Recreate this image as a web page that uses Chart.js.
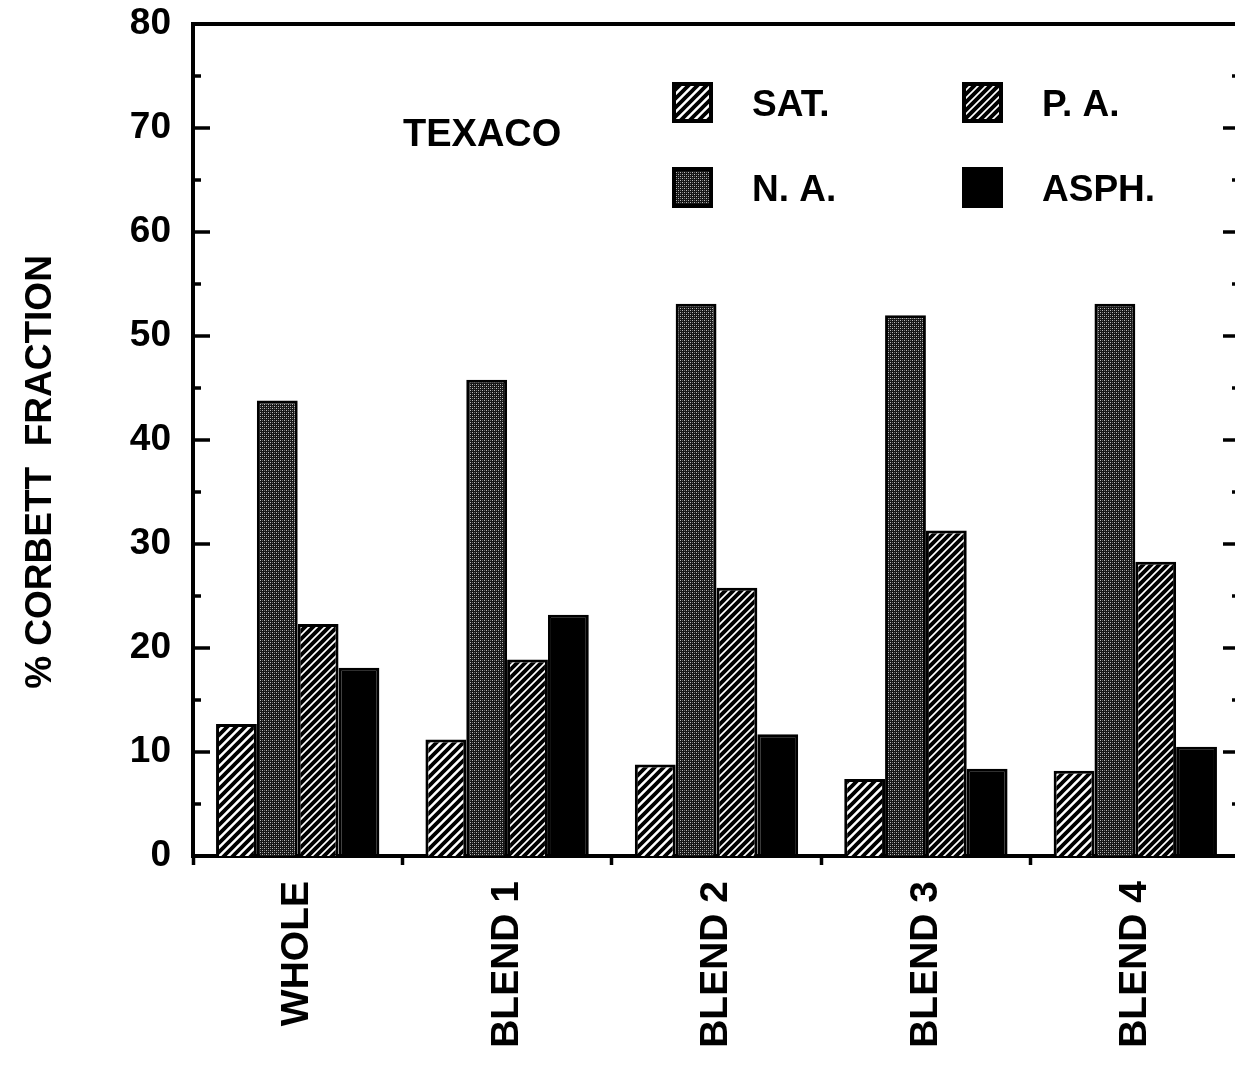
<!DOCTYPE html>
<html>
<head>
<meta charset="utf-8">
<script src="https://cdn.jsdelivr.net/npm/chart.js@4.4.1/dist/chart.umd.min.js"></script>
<style>
  html, body { margin: 0; padding: 0; background: #fff; overflow: hidden; }
  #wrap { width: 1245px; height: 1067px; }
</style>
</head>
<body>
<div id="wrap"><canvas id="c" width="1245" height="1067"></canvas></div>
<script>
// ---- data ----
const categories = ['WHOLE', 'BLEND 1', 'BLEND 2', 'BLEND 3', 'BLEND 4'];
const seriesNames = ['SAT.', 'N. A.', 'P. A.', 'ASPH.'];
const satValues  = [12.7, 11.2, 8.8, 7.4, 8.2];
const naValues   = [43.8, 45.8, 53.1, 52.0, 53.1];
const paValues   = [22.3, 18.9, 25.8, 31.3, 28.3];
const asphValues = [18.1, 23.2, 11.7, 8.4, 10.5];
const yTicks = [0, 10, 20, 30, 40, 50, 60, 70, 80];
const chartLabel = 'TEXACO';
const yTitle = '% CORBETT  FRACTION';

const FONT = '"Liberation Sans", Arial, Helvetica, sans-serif';

// ---- patterns ----
function stripePattern(size, bg, fg, lw) {
  const c = document.createElement('canvas');
  c.width = size; c.height = size;
  const x = c.getContext('2d');
  x.fillStyle = bg; x.fillRect(0, 0, size, size);
  x.strokeStyle = fg; x.lineWidth = lw; x.lineCap = 'square';
  x.beginPath();
  x.moveTo(0, size); x.lineTo(size, 0);
  x.moveTo(-size / 2, size / 2); x.lineTo(size / 2, -size / 2);
  x.moveTo(size / 2, size * 1.5); x.lineTo(size * 1.5, size / 2);
  x.stroke();
  return x.createPattern(c, 'repeat');
}
function stipplePattern() {
  const c = document.createElement('canvas');
  c.width = 4; c.height = 4;
  const x = c.getContext('2d');
  x.fillStyle = '#161616'; x.fillRect(0, 0, 4, 4);
  x.fillStyle = '#bdbdbd'; x.fillRect(0, 0, 1, 1); x.fillRect(2, 2, 1, 1);
  x.fillStyle = '#6e6e6e'; x.fillRect(2, 0, 1, 1); x.fillRect(0, 2, 1, 1);
  return x.createPattern(c, 'repeat');
}
const satFill = stripePattern(9, '#ffffff', '#000000', 3.8);
const naFill = stipplePattern();
const paFill = stripePattern(8, '#000000', '#ffffff', 1.7);
const asphFill = '#000000';

// ---- custom decorations ----
const decor = {
  id: 'decor',
  afterDraw(chart) {
    const ctx = chart.ctx;
    const a = chart.chartArea;
    const y = chart.scales.y;
    ctx.save();
    ctx.strokeStyle = '#000';
    ctx.lineCap = 'butt';
    // top border
    ctx.lineWidth = 4;
    ctx.beginPath(); ctx.moveTo(a.left - 2, a.top); ctx.lineTo(a.right + 2, a.top); ctx.stroke();
    // right border
    ctx.beginPath(); ctx.moveTo(a.right, a.top); ctx.lineTo(a.right, a.bottom); ctx.stroke();
    // inward ticks on left and right, major every 10, minor every 5
    ctx.lineWidth = 3.5;
    for (let v = y.min; v <= y.max; v += 5) {
      const py = y.getPixelForValue(v);
      const len = (v % 10 === 0) ? 17 : 8;
      if (v !== y.min && v !== y.max) {
        ctx.beginPath(); ctx.moveTo(a.left, py); ctx.lineTo(a.left + len, py); ctx.stroke();
        ctx.beginPath(); ctx.moveTo(a.right, py); ctx.lineTo(a.right - len, py); ctx.stroke();
      }
    }
    // inner label
    ctx.fillStyle = '#000';
    ctx.font = 'bold 38px ' + FONT;
    ctx.textAlign = 'left'; ctx.textBaseline = 'middle';
    ctx.fillText(chartLabel, 403, 136);
    // legend (2 columns x 2 rows)
    const ds = chart.data.datasets;
    const pos = [[672, 82], [672, 167], [962, 82], [962, 167]];
    ctx.font = 'bold 37px ' + FONT;
    ds.forEach((d, i) => {
      const [bx, by] = pos[i];
      ctx.fillStyle = d.backgroundColor;
      ctx.fillRect(bx, by, 41, 41);
      ctx.lineWidth = 4;
      ctx.strokeRect(bx + 2, by + 2, 37, 37);
      ctx.fillStyle = '#000';
      ctx.fillText(d.label, bx + 80, by + 24);
    });
    // y-axis title
    ctx.save();
    ctx.translate(41, 472);
    ctx.rotate(-Math.PI / 2);
    ctx.textAlign = 'center'; ctx.textBaseline = 'middle';
    ctx.font = 'bold 37px ' + FONT;
    ctx.fillText(yTitle, 0, 0);
    ctx.restore();
    ctx.restore();
  }
};

Chart.defaults.color = '#000';
Chart.defaults.font.family = FONT;

new Chart(document.getElementById('c'), {
  type: 'bar',
  data: {
    labels: categories,
    datasets: [
      { label: seriesNames[0], data: satValues,  backgroundColor: satFill },
      { label: seriesNames[1], data: naValues,   backgroundColor: naFill },
      { label: seriesNames[2], data: paValues,   backgroundColor: paFill },
      { label: seriesNames[3], data: asphValues, backgroundColor: asphFill }
    ]
  },
  options: {
    responsive: false,
    animation: false,
    devicePixelRatio: 1,
    layout: { padding: { left: 0, top: 24, right: 5, bottom: 0 } },
    datasets: {
      bar: {
        borderColor: '#000',
        borderWidth: 3,
        categoryPercentage: 0.78,
        barPercentage: 1.0
      }
    },
    plugins: {
      legend: { display: false },
      tooltip: { enabled: false },
      title: { display: false }
    },
    scales: {
      x: {
        grid: {
          display: true, drawOnChartArea: false, drawTicks: true,
          tickLength: 9, tickWidth: 3.5, tickColor: '#000', offset: true
        },
        border: { display: true, width: 4, color: '#000' },
        ticks: {
          autoSkip: false, maxRotation: 90, minRotation: 90, padding: 16,
          font: { size: 39, weight: 'bold' }, color: '#000'
        },
        afterFit(scale) {
          scale.height = 211;
          scale.paddingLeft = 0; scale.paddingRight = 0;
        }
      },
      y: {
        min: 0, max: 80,
        afterBuildTicks(scale) { scale.ticks = yTicks.map(v => ({ value: v })); },
        grid: { display: false, drawTicks: false },
        border: { display: true, width: 4, color: '#000' },
        ticks: {
          padding: 22,
          font: { size: 37, weight: 'bold' }, color: '#000'
        },
        afterFit(scale) {
          scale.width = 193;
          scale.paddingTop = 0; scale.paddingBottom = 0;
        }
      }
    }
  },
  plugins: [decor]
});
</script>
</body>
</html>
